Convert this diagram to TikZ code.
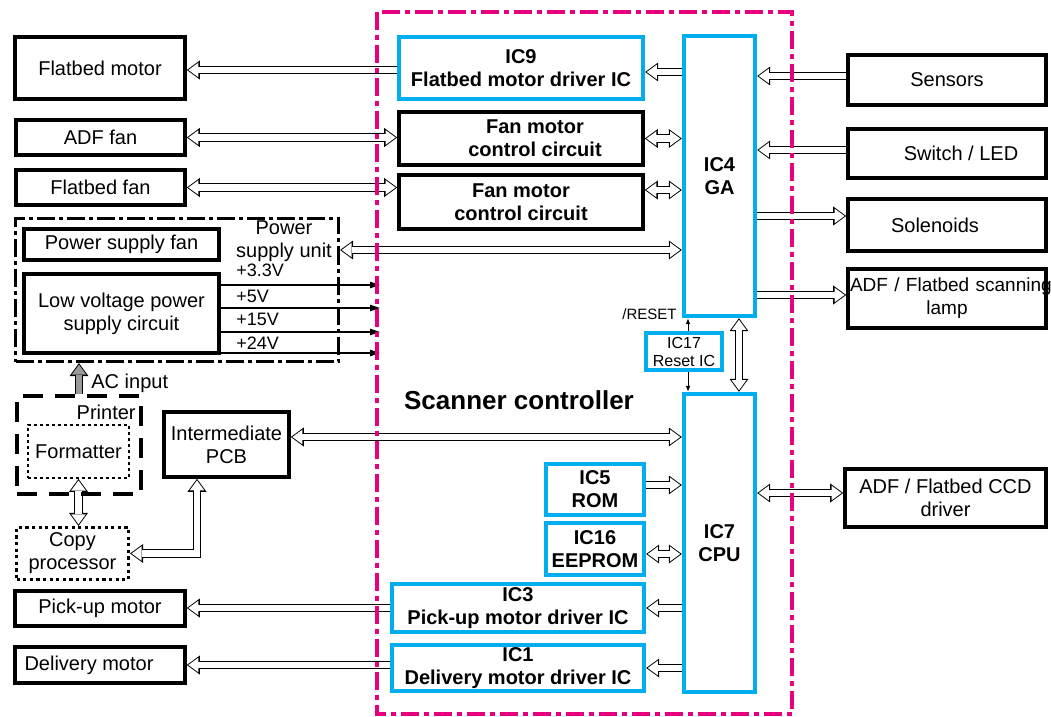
\documentclass[tikz,border=0pt]{standalone}
\usepackage{fontspec}
\setmainfont{Liberation Sans}
\usetikzlibrary{arrows.meta,backgrounds}
\definecolor{iccyan}{RGB}{0,174,239}
\definecolor{ctrlmag}{RGB}{230,0,126}

\begin{document}
\begin{tikzpicture}[x=0.5pt,y=-0.5pt,font=\fontsize{10}{11.5}\selectfont,
  blk/.style={draw,line width=1.8pt,inner sep=0pt,align=center},
  ic/.style={draw=iccyan,line width=2.2pt,inner sep=0pt,align=center,font=\fontsize{10}{11.5}\selectfont\bfseries},
  psubox/.style={draw,line width=1.6pt,dash pattern=on 9pt off 2pt on 2pt off 2pt,inner sep=0pt},
  prtbox/.style={draw,line width=2pt,dash pattern=on 10pt off 6pt,inner sep=0pt},
  fmtbox/.style={draw,line width=0.9pt,dash pattern=on 1.5pt off 1.5pt,inner sep=0pt},
  cpbox/.style={draw,line width=1.6pt,dash pattern=on 1.6pt off 1.7pt,inner sep=0pt,align=center},
  ctrlframe/.style={draw=ctrlmag,line width=2pt,dash pattern=on 9pt off 2.5pt on 2.5pt off 2.5pt},
  hollow/.style={#1,line width=3.2pt,shorten >=0.8pt,
    -{Triangle[length=5pt,width=7.3pt,line width=0pt]},
    preaction={draw,black,line width=4.2pt,shorten >=0pt,
      -{Triangle[length=6.5pt,width=9.5pt,line width=0pt]}}},
  hollow/.default=white,
  hollowboth/.style={white,line width=3.2pt,shorten >=0.8pt,shorten <=0.8pt,
    {Triangle[length=5pt,width=7.3pt,line width=0pt]}-{Triangle[length=5pt,width=7.3pt,line width=0pt]},
    preaction={draw,black,line width=4.2pt,shorten >=0pt,shorten <=0pt,
      {Triangle[length=6.5pt,width=9.5pt,line width=0pt]}-{Triangle[length=6.5pt,width=9.5pt,line width=0pt]}}},
  volt/.style={line width=0.6pt,-{Triangle[length=5pt,width=3.2pt]}},
  rst/.style={line width=0.5pt,-{Latex[length=3pt,width=2.4pt]}}]
\useasboundingbox (0,0) rectangle (1051,717);

\node[blk,minimum width=85pt,minimum height=31pt] (fbmotor) at (100,68) {Flatbed motor};
\node[blk,minimum width=84.5pt,minimum height=17.5pt] (adffan) at (100.5,137.5) {ADF fan};
\node[blk,minimum width=84.5pt,minimum height=17.5pt] (fbfan) at (100.5,187.5) {Flatbed fan};
\node[psubox,minimum width=161.5pt,minimum height=71.5pt] (psu) at (177,290) {};
\node[blk,minimum width=97.5pt,minimum height=15.5pt] (psfan) at (121.5,244.5) {Power supply fan};
\node[blk,minimum width=97.5pt,minimum height=39.5pt] (lvps) at (121.5,313.5) {Low voltage power\\supply circuit};
\node[align=center] (psulbl) at (284,241) {Power\\supply unit};
\node[prtbox,minimum width=62pt,minimum height=49pt] (printer) at (79,445) {};
\node[anchor=base east,inner sep=0pt] (prtlbl) at (136,419) {Printer};
\node[fmtbox,minimum width=50.5pt,minimum height=26.5pt] (formatter) at (78.5,451.5) {Formatter};
\node[cpbox,minimum width=56pt,minimum height=26pt] (copyproc) at (72.5,553.5) {Copy\\processor};
\node[blk,minimum width=62.5pt,minimum height=32.5pt] (ipcb) at (226.5,444.5) {Intermediate\\PCB};
\node[blk,minimum width=85pt,minimum height=17.5pt] (pickup) at (100,608.5) {Pick-up motor};
\node[blk,minimum width=85pt,minimum height=18pt] (delivery) at (100,665) {\hspace*{-11pt}Delivery motor};
\node[anchor=base west,inner sep=0pt] (aclbl) at (91,388) {AC input};

\node[ic,minimum width=122pt,minimum height=31pt] (ic9) at (521,68) {IC9\\Flatbed motor driver IC};
\node[blk,font=\fontsize{10}{11.5}\selectfont\bfseries,minimum width=122pt,minimum height=26.5pt] (fan1) at (521,138.5) {\hspace*{14pt}Fan motor\\\hspace*{14pt}control circuit};
\node[blk,font=\fontsize{10}{11.5}\selectfont\bfseries,minimum width=122pt,minimum height=27pt] (fan2) at (521,202) {Fan motor\\control circuit};
\node[ic,minimum width=35.5pt,minimum height=140pt] (ic4) at (719.5,176) {IC4\\GA};
\node[ic,line width=2pt,font=\fontsize{8}{9}\selectfont,minimum width=38pt,minimum height=18.5pt] (ic17) at (684,351.5) {IC17\\Reset IC};
\node[anchor=base east,inner sep=0pt,font=\fontsize{7.5}{8}\selectfont] (rstlbl) at (677,319.5) {/RESET};
\node[ic,minimum width=35.5pt,minimum height=149pt] (ic7) at (719.5,543) {IC7\\CPU};
\node[ic,minimum width=49pt,minimum height=25.5pt] (ic5) at (595,489.5) {IC5\\ROM};
\node[ic,minimum width=49pt,minimum height=26pt] (ic16) at (595,549) {IC16\\EEPROM};
\node[ic,minimum width=126pt,minimum height=24pt] (ic3) at (518,608) {IC3\\Pick-up motor driver IC};
\node[ic,minimum width=126pt,minimum height=23pt] (ic1) at (518,668) {IC1\\Delivery motor driver IC};
\node[anchor=base,font=\fontsize{13}{15}\selectfont\bfseries] (sclbl) at (519,409) {Scanner controller};

\node[blk,minimum width=99pt,minimum height=25pt] (sensors) at (947,80) {Sensors};
\node[blk,minimum width=99pt,minimum height=24.5pt] (switch) at (947,153.5) {\hspace*{14pt}Switch / LED};
\node[blk,minimum width=99pt,minimum height=26pt] (solenoids) at (947,225) {\hspace*{-12pt}Solenoids};
\node[blk,font=\fontsize{9.5}{11.5}\selectfont,text width=97pt,minimum width=99pt,minimum height=29.5pt] (lamp) at (947,298.5) {\mbox{ADF / Flatbed scanning}\\lamp};
\node[blk,minimum width=100.5pt,minimum height=29pt] (ccd) at (945.5,498) {ADF / Flatbed CCD\\driver};

\node[anchor=base west,inner sep=0pt,font=\fontsize{9}{10}\selectfont] (l33) at (236,277) {+3.3V};
\node[anchor=base west,inner sep=0pt,font=\fontsize{9}{10}\selectfont] (l5) at (236,302) {+5V};
\node[anchor=base west,inner sep=0pt,font=\fontsize{9}{10}\selectfont] (l15) at (236,326) {+15V};
\node[anchor=base west,inner sep=0pt,font=\fontsize{9}{10}\selectfont] (l24) at (236,350) {+24V};
\coordinate (v1) at (380,285);
\coordinate (v2) at (380,308);
\coordinate (v3) at (380,332);
\coordinate (v4) at (380,353);

\begin{scope}[on background layer]
\draw[hollow] ([yshift=-2pt]ic4.west |- ic9.east) -- ([yshift=-2pt]ic9.east);
\draw[hollow] ([yshift=-1pt]ic9.west) -- ([yshift=-1pt]fbmotor.east);
\draw[hollowboth] (adffan.east) -- (adffan.east -| fan1.west);
\draw[hollowboth] (fan1.east) -- (fan1.east -| ic4.west);
\draw[hollowboth] (fbfan.east) -- (fbfan.east -| fan2.west);
\draw[hollowboth] ([yshift=6pt]fan2.east) -- ([yshift=6pt]fan2.east -| ic4.west);
\draw[hollowboth] ([yshift=-2.75pt]psu.east |- psfan.east) -- ([yshift=-2.75pt]ic4.west |- psfan.east);
\draw[hollow] ([yshift=2pt]sensors.west) -- ([yshift=2pt]sensors.west -| ic4.east);
\draw[hollow] ([yshift=1.75pt]switch.west) -- ([yshift=1.75pt]switch.west -| ic4.east);
\draw[hollow] ([yshift=4.5pt]ic4.east |- solenoids.west) -- ([yshift=4.5pt]solenoids.west);
\draw[hollow] ([yshift=1.75pt]ic4.east |- lamp.west) -- ([yshift=1.75pt]lamp.west);
\draw[hollowboth] ([yshift=2.5pt]ic7.east |- ccd.west) -- ([yshift=2.5pt]ccd.west);
\draw[hollowboth] ([xshift=9.75pt]ic4.south) -- ([xshift=9.75pt]ic7.north);
\draw[hollowboth] ([yshift=3.75pt]ipcb.east) -- ([yshift=3.75pt]ic7.west |- ipcb.east);
\draw[hollowboth] ([xshift=-14.75pt]ipcb.south) |- (copyproc.east);
\draw[hollowboth] (formatter.south) -- (formatter.south |- copyproc.north);
\draw[hollow=black!40] (printer.north) -- (printer.north |- psu.south);
\draw[hollow] ([yshift=2.25pt]ic5.east) -- ([yshift=2.25pt]ic5.east -| ic7.west);
\draw[hollowboth] ([yshift=-2.5pt]ic16.east) -- ([yshift=-2.5pt]ic16.east -| ic7.west);
\draw[hollow] (ic7.west |- ic3.east) -- (ic3.east);
\draw[hollow] (ic3.west) -- (ic3.west -| pickup.east);
\draw[hollow] (ic7.west |- ic1.east) -- (ic1.east);
\draw[hollow] (ic1.west |- delivery.east) -- (delivery.east);
\draw[rst] ([xshift=2pt]ic17.north) -- ([xshift=2pt]ic17.north |- ic4.south);
\draw[rst] ([xshift=2pt]ic17.south) -- ([xshift=2pt]ic17.south |- ic7.north);
\draw[volt] (lvps.east |- v1) -- (v1);
\draw[volt] (lvps.east |- v2) -- (v2);
\draw[volt] (lvps.east |- v3) -- (v3);
\draw[volt] (lvps.east |- v4) -- (v4);
\end{scope}

\draw[ctrlframe] (377,12) rectangle (792,714);
\end{tikzpicture}
\end{document}
